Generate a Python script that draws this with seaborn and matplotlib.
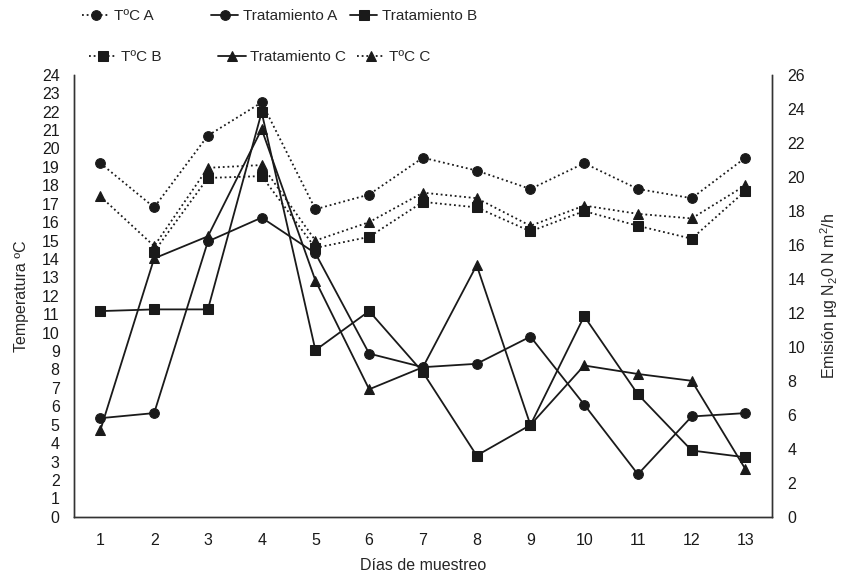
import numpy as np
import matplotlib
matplotlib.use("Agg")
import matplotlib.pyplot as plt
import seaborn as sns

# === Data ===
dias = list(range(1, 14))
temp_a = [19.2, 16.8, 20.7, 22.5, 16.7, 17.5, 19.5, 18.8, 17.8, 19.2, 17.8, 17.3, 19.5]
temp_b = [np.nan, 14.4, 18.4, 18.5, 14.6, 15.2, 17.1, 16.8, 15.5, 16.6, 15.8, 15.1, 17.7]
temp_c = [17.4, 14.7, 18.95, 19.1, 15.0, 16.0, 17.6, 17.3, 15.8, 16.9, 16.45, 16.2, 18.0]
trat_a = [5.8, 6.1, 16.2, 17.6, 15.5, 9.6, 8.8, 9.0, 10.6, 6.6, 2.5, 5.9, 6.1]
trat_b = [12.1, 12.2, 12.2, 23.8, 9.8, 12.1, 8.5, 3.6, 5.4, 11.8, 7.2, 3.9, 3.5]
trat_c = [5.1, 15.2, 16.5, 22.8, 13.9, 7.5, 8.8, 14.8, 5.4, 8.9, 8.4, 8.0, 2.8]

sns.set_style("white")
plt.rcParams['font.family'] = ['Liberation Sans', 'DejaVu Sans']
plt.rcParams['mathtext.fontset'] = 'custom'
plt.rcParams['mathtext.rm'] = 'Liberation Sans'
plt.rcParams['font.size'] = 11.5

fig = plt.figure(figsize=(8.45, 5.8), dpi=100)
ax = fig.add_axes([0.087, 0.109, 0.827, 0.762])
ax2 = ax.twinx()

dot = (0, (1, 1.6))
ink = "#1a1a1a"

# temperatures -> left axis (dotted)
sns.lineplot(x=dias, y=temp_a, ax=ax, color=ink, linestyle=dot, lw=1.3,
             marker='o', markersize=7, markeredgecolor=ink, label="TºC A")
sns.lineplot(x=dias, y=temp_b, ax=ax, color=ink, linestyle=dot, lw=1.3,
             marker='s', markersize=6.5, markeredgecolor=ink, label="TºC B")
sns.lineplot(x=dias, y=temp_c, ax=ax, color=ink, linestyle=dot, lw=1.3,
             marker='^', markersize=7, markeredgecolor=ink, label="TºC C")

# emissions -> right axis (solid)
sns.lineplot(x=dias, y=trat_a, ax=ax2, color=ink, lw=1.3,
             marker='o', markersize=7, markeredgecolor=ink, label="Tratamiento A")
sns.lineplot(x=dias, y=trat_b, ax=ax2, color=ink, lw=1.3,
             marker='s', markersize=6.5, markeredgecolor=ink, label="Tratamiento B")
sns.lineplot(x=dias, y=trat_c, ax=ax2, color=ink, lw=1.3,
             marker='^', markersize=7, markeredgecolor=ink, label="Tratamiento C")

h1, l1 = ax.get_legend_handles_labels()
h2, l2 = ax2.get_legend_handles_labels()
ax.get_legend().remove()
ax2.get_legend().remove()
hmap = dict(zip(l1 + l2, h1 + h2))

ax.set_xlim(0.5, 13.5)
ax.set_ylim(0, 24)
ax2.set_ylim(0, 26)
ax.set_xticks(dias)
ax.set_yticks(range(0, 25))
ax2.set_yticks(range(0, 27, 2))

for a in (ax, ax2):
    a.spines['top'].set_visible(False)
    for s in ('left', 'right', 'bottom'):
        a.spines[s].set_color("#333333")
        a.spines[s].set_linewidth(1.0)
ax.tick_params(axis='y', length=0, pad=10, colors="#1a1a1a")
ax.tick_params(axis='x', length=0, pad=12, colors="#1a1a1a")
ax2.tick_params(axis='y', length=0, pad=11, colors="#1a1a1a")

ax.set_xlabel("Días de muestreo")
ax.set_ylabel("Temperatura ºC")
ax2.set_ylabel(r"Emisión µg N$_2$0 N m$^2$/h")
ax.xaxis.set_label_coords(0.5, -0.093)
ax.yaxis.set_label_coords(-0.063, 0.5)
ax2.yaxis.set_label_coords(1.066, 0.5)

# legend: two rows, entries placed like the original
entries = [("TºC A", 82, 16), ("Tratamiento A", 211, 16), ("Tratamiento B", 350, 16),
           ("TºC B", 89, 57), ("Tratamiento C", 218, 57), ("TºC C", 357, 57)]
for lab, px, py in entries:
    fig.legend([hmap[lab]], [lab], loc="center left",
               bbox_to_anchor=(px / 845, 1 - py / 580), frameon=False,
               borderpad=0, borderaxespad=0, handlelength=1.8,
               handletextpad=0.3, fontsize=11)

fig.savefig("out.png", dpi=100)
